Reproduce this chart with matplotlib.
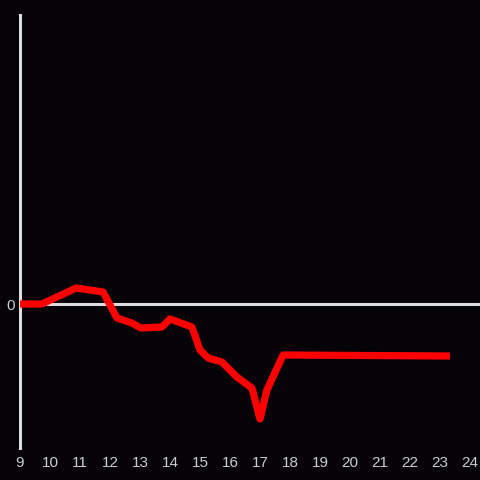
import matplotlib.pyplot as plt

# hours of the day vs. change (arbitrary units, 0 = baseline)
hours = [9.0, 9.73, 10.87, 11.77, 12.23, 12.73, 13.03, 13.73, 14.0, 14.73,
         15.0, 15.27, 15.73, 16.23, 16.73, 17.0, 17.23, 17.77, 23.33]
change = [0, 0, 16, 12, -14, -19, -24, -23, -15, -23,
          -46, -54, -58, -73, -84, -115, -86, -51, -52]
xticks = list(range(9, 25))

plt.rcParams['font.family'] = ['Liberation Sans', 'DejaVu Sans']

bg = '#050307'
fig = plt.figure(figsize=(4.8, 4.8), dpi=100, facecolor=bg)
ax = fig.add_axes([20 / 480, 32 / 480, 450 / 480, 433 / 480], facecolor=bg)

ax.plot(hours, change, color='#ff0000', lw=5.2, solid_joinstyle='round',
        solid_capstyle='butt', zorder=3)
ax.axhline(0, xmin=0, xmax=460 / 450, color='#dddddd', lw=2.2, clip_on=False, zorder=2)

ax.set_xlim(9, 24)
ax.set_ylim(-144, 289)
ax.set_xticks(xticks)
ax.set_yticks([0])

for s in ['top', 'right', 'bottom']:
    ax.spines[s].set_visible(False)
ax.spines['left'].set_color('#dddddd')
ax.spines['left'].set_linewidth(2.2)

ax.tick_params(axis='both', length=0, colors='#cccccc', labelsize=11)
ax.tick_params(axis='x', pad=6)
ax.tick_params(axis='y', pad=4)

fig.savefig('out.png', dpi=100, facecolor=bg)
